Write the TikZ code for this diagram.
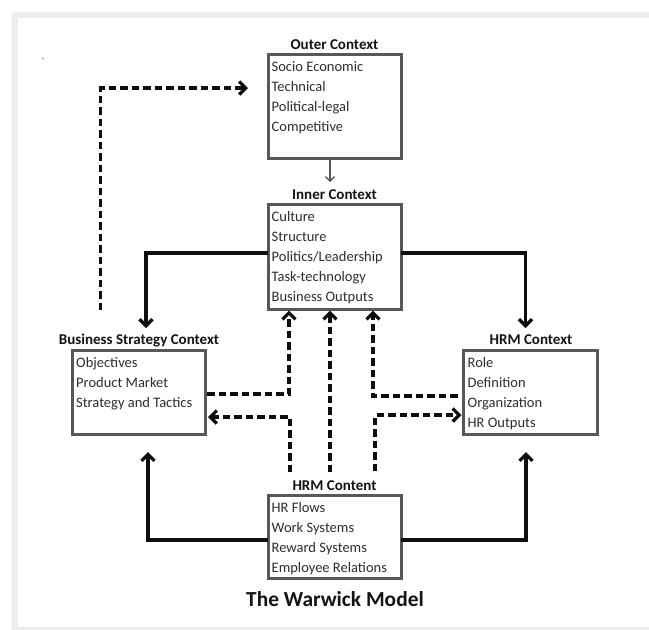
\documentclass[tikz,border=0pt]{standalone}
\usepackage{fontspec}
\setmainfont{Carlito}
\usetikzlibrary{arrows.meta,calc}
\definecolor{framegray}{HTML}{EDEDED}
\definecolor{boxgray}{HTML}{585858}
\definecolor{itemgray}{HTML}{2E2E2E}
\definecolor{ttlcol}{HTML}{141414}
\definecolor{linecol}{HTML}{0E0E0E}
\begin{document}
\begin{tikzpicture}[x=1pt,y=-1pt,
  box/.style={draw=boxgray,line width=3pt,inner sep=0pt,outer sep=0pt,anchor=north west},
  items/.style={font=\fontsize{14.5}{20}\selectfont,text=itemgray,align=left,anchor=north west,inner sep=0pt},
  ttl/.style={font=\fontsize{15}{18}\selectfont\bfseries,text=ttlcol,inner sep=0pt,anchor=base},
  solidarrow/.style={line width=3.3pt,draw=linecol,-{Straight Barb[length=6.5pt,width=13pt]}},
  dasharrow/.style={line width=3.3pt,draw=linecol,dash pattern=on 7.5pt off 4pt,-{Straight Barb[length=6.5pt,width=13pt]}},
  thinarrow/.style={line width=1.3pt,draw=boxgray,-{Straight Barb[length=4.5pt,width=9pt]}}
]
\useasboundingbox (0,0) rectangle (649,630);
% frame
\begin{scope}
\clip (0,0) rectangle (649,630);
\fill[framegray,rounded corners=5pt] (11.5,11.5) rectangle (700,700);
\fill[white] (18,18) rectangle (700,627);
\end{scope}
\fill[gray!70] (43,58.5) circle (1.1);

% boxes
\node[box,minimum width=133pt,minimum height=104pt] (outer) at (268,54) {};
\node[box,minimum width=133pt,minimum height=105pt] (inner) at (268,204) {};
\node[box,minimum width=133pt,minimum height=84pt] (bsc) at (72,350) {};
\node[box,minimum width=133.5pt,minimum height=84pt] (hctx) at (463.5,350) {};
\node[box,minimum width=133pt,minimum height=83pt] (hcont) at (268,495) {};

% titles
\node[ttl] (outert) at (334.5,49.2) {Outer Context};
\node[ttl] (innert) at (334.5,199.8) {Inner Context};
\node[ttl] (bsct) at (139,344.8) {Business Strategy Context};
\node[ttl] (hctxt) at (531,344.8) {HRM Context};
\node[ttl] (hcontt) at (334.5,490) {HRM Content};
\node[font=\fontsize{21.4}{24}\selectfont\bfseries,text=ttlcol,inner sep=0pt,anchor=base] (model) at (335,606.7) {The Warwick Model};

% items
\node[items] (outeri) at ($(outer.north west)+(3.5,7)$) {Socio Economic\\Technical\\Political-legal\\Competitive};
\node[items] (inneri) at ($(inner.north west)+(3.5,7)$) {Culture\\Structure\\Politics/Leadership\\Task-technology\\Business Outputs};
\node[items] (bsci) at ($(bsc.north west)+(4,7)$) {Objectives\\Product Market\\Strategy and Tactics};
\node[items] (hctxi) at ($(hctx.north west)+(4,7)$) {Role\\Definition\\Organization\\HR Outputs};
\node[items] (hconti) at ($(hcont.north west)+(3.5,7)$) {HR Flows\\Work Systems\\Reward Systems\\Employee Relations};

% free ends
\coordinate (bscin) at (146,328);
\coordinate (hctxin) at (525.5,328);
\coordinate (bscup) at (148,452);
\coordinate (hctxup) at (526,452);
\coordinate (d1) at (290,472);
\coordinate (d2) at (330,472);
\coordinate (d3) at (375,471);
\coordinate (fb) at (100.5,310);

% connectors
\draw[thinarrow] ([xshift=-4.5pt]outer.south) -- ++(0,24);
\draw[solidarrow] ([yshift=3.5pt]inner.west) -| (bscin);
\draw[solidarrow] ([yshift=3.5pt]inner.east) -| (hctxin);
\draw[solidarrow] ([yshift=-3.5pt]hcont.west) -| (bscup);
\draw[solidarrow] ([yshift=-3.5pt]hcont.east) -| (hctxup);

\draw[dasharrow] ([xshift=2pt,yshift=-2pt]bsc.east) -| ([yshift=-1.5pt]inner.south -| 289,0);
\draw[dasharrow] (d1) |- ([xshift=3pt,yshift=-25pt]bsc.east);
\draw[dasharrow] (d2) -- ([yshift=-1.5pt]inner.south -| d2);
\draw[dasharrow] ([xshift=-6pt,yshift=-4pt]hctx.west) -| ([yshift=-1.5pt]inner.south -| 373,0);
\draw[dasharrow] (d3) |- ([xshift=-2pt,yshift=-23pt]hctx.west);
\draw[dasharrow] (fb) |- ([xshift=-20pt,yshift=18pt]outer.west);
\end{tikzpicture}
\end{document}
